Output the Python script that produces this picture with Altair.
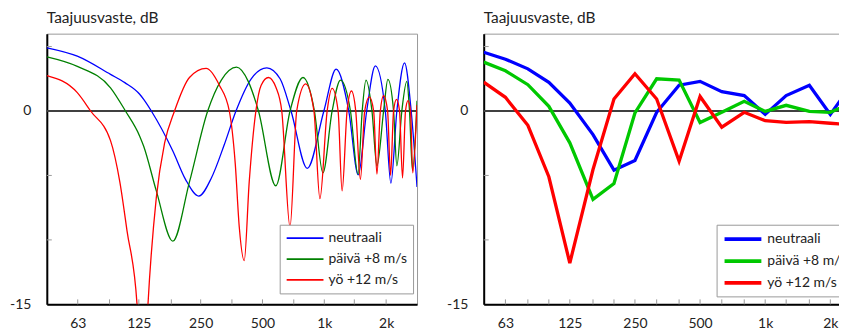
import altair as alt
import pandas as pd

FONT = "Lato"
SERIES = ["neutraali", "päivä +8 m/s", "yö +12 m/s"]
TITLE = "Taajuusvaste, dB"

# ---- Left panel: continuous frequency response (Hz, dB) ----
blue_f = [44.6, 62.7, 91.0, 106.8, 126.2, 132.0, 143.8, 183.0, 210.9, 244.7, 281.9, 326.0,
          371.4, 440.6, 525.0, 609.0, 688.6, 826.0, 995.2, 1141.6, 1315.5, 1462.6, 1608.2,
          1772.2, 1981.5, 2109.3, 2255.4, 2457.8, 2648.6, 2828.0]
blue_db = [4.9, 4.25, 2.84, 2.2, 1.3, 0.9, 0.0, -3.1, -5.3, -6.6, -5.2, -2.6,
           0.0, 2.5, 3.35, 2.5, 0.0, -4.45, 0.0, 3.25, 0.0, -4.95, 0.0,
           3.5, 0.0, -5.6, 0.0, 3.74, 0.0, -5.9]

green_f = [44.6, 62.7, 91.0, 107.6, 126.2, 132.0, 152.1, 183.0, 220.5, 270.5, 315.2, 373.9,
           426.1, 478.0, 580.4, 680.9, 787.3, 895.1, 984.2, 1091.8, 1199.1, 1340.7, 1459.4,
           1529.4, 1595.7, 1706.3, 1804.2, 1944.3, 2039.8, 2173.9, 2255.4, 2385.0, 2521.8,
           2598.9, 2687.4, 2828.0]
green_db = [4.2, 3.46, 1.8, 0.0, -1.95, -2.73, -6.2, -10.1, -5.5, 0.0, 2.4, 3.4,
            2.3, 0.0, -5.8, 0.0, 2.6, 0.0, -4.8, 0.0, 2.4, 0.0, -4.9,
            0.0, 2.4, 0.0, -4.25, 0.0, 2.45, 0.0, -4.25, 0.0, 2.3,
            0.0, -4.6, 0.8]

red_f = [44.6, 62.7, 72.8, 91.0, 101.0, 109.5, 122.5, 130.5, 138.5, 152.1, 166.8, 186.5,
         220.5, 265.7, 308.3, 344.7, 368.5, 385.4, 407.5, 430.9, 464.3, 492.6, 534.4,
         582.4, 620.6, 680.9, 733.8, 811.3, 890.1, 951.8, 1032.5, 1091.8, 1167.4, 1220.7,
         1290.8, 1355.7, 1422.4, 1499.1, 1572.7, 1657.5, 1738.9, 1804.2, 1874.0, 1944.3,
         2033.1, 2102.2, 2173.9, 2247.9, 2324.4, 2403.6, 2485.4, 2555.8, 2628.0, 2696.4,
         2825.9]
red_db = [2.75, 1.42, 0.0, -2.3, -5.5, -9.3, -15.0, -24.0, -15.0, -6.7, -2.5, 0.0,
          2.6, 3.3, 2.0, 0.0, -4.1, -9.0, -11.6, -5.5, 0.0, 2.0, 2.6,
          1.8, 0.0, -9.0, 0.0, 2.1, 0.0, -6.8, 0.0, 1.75, 0.0, -6.2,
          0.0, 1.55, 0.0, -5.3, 0.0, 1.1, 0.0, -4.9, 0.0, 1.2,
          0.0, -5.0, 0.0, 0.9, 0.0, -5.2, 0.0, 0.8, 0.0, -4.8,
          0.46]

# ---- Right panel: third-octave bands ----
bands = [50, 63, 80, 100, 125, 160, 200, 250, 315, 400, 500, 630, 800, 1000, 1250, 1600, 2000, 2500]
band_blue = [4.56, 4.02, 3.27, 2.22, 0.62, -1.83, -4.59, -3.84, -0.1, 2.0, 2.3, 1.5, 1.2, -0.26,
             1.2, 2.0, -0.26, 2.0]
band_green = [3.79, 3.12, 2.04, 0.36, -2.47, -6.86, -5.62, -0.15, 2.5, 2.4, -0.9, -0.1, 0.75,
              -0.03, 0.44, -0.03, -0.1, 0.6]
band_red = [2.24, 1.06, -1.11, -5.1, -11.8, -4.54, 0.93, 2.89, 0.93, -3.89, 1.13, -1.26, -0.1,
            -0.75, -0.88, -0.82, -0.95, -1.05]

octave_labels = [63, 125, 250, 500, 1000, 2000]
left_ticks = [63, 90, 125, 180, 250, 355, 500, 710, 1000, 1400, 2000]
right_ticks = [63, 80, 100, 125, 160, 200, 250, 315, 400, 500, 630, 800, 1000, 1250, 1600, 2000, 2500]
y_ticks = [5, -5, -10]
y_labels = [0, -15]


def long_df(fs, dbs):
    rows = []
    for name, f, d in zip(SERIES, fs, dbs):
        rows += [{"f": a, "db": b, "series": name} for a, b in zip(f, d)]
    return pd.DataFrame(rows)


def panel(df, xdom, width, height, colors, sw, xticks, legend_x, interp):
    x_enc = alt.X("f:Q", title=None,
                  scale=alt.Scale(type="log", domain=xdom, nice=False),
                  axis=alt.Axis(values=octave_labels, ticks=False, grid=False,
                                domainColor="#000000", domainWidth=2,
                                labelExpr="datum.value >= 1000 ? (datum.value/1000) + 'k' : datum.value",
                                labelFont=FONT, labelFontSize=14, labelColor="#222222",
                                labelPadding=12, labelFlush=False))
    y_enc = alt.Y("db:Q", title=None,
                  scale=alt.Scale(domain=[-15, 6], nice=False, zero=False),
                  axis=alt.Axis(values=y_labels, ticks=False, grid=False,
                                domainColor="#000000", domainWidth=2,
                                labelExpr="datum.value < 0 ? '-' + abs(datum.value) : '' + datum.value",
                                labelFont=FONT, labelFontSize=14, labelColor="#222222",
                                labelPadding=16))
    layers = [
        alt.Chart(pd.DataFrame({"db": [0]})).mark_rule(
            color="#404040", strokeWidth=2).encode(y=y_enc),
        alt.Chart(pd.DataFrame({"f": xticks})).mark_rule(
            color="#999999", strokeWidth=1).encode(x=x_enc, y=alt.value(height), y2=alt.value(height - 5)),
        alt.Chart(pd.DataFrame({"db": y_ticks})).mark_rule(
            color="#999999", strokeWidth=1).encode(y=y_enc, x=alt.value(0), x2=alt.value(5)),
        alt.Chart(df).mark_line(strokeWidth=sw, clip=True, interpolate=interp).encode(
            x=x_enc, y=y_enc,
            color=alt.Color("series:N", sort=SERIES,
                            scale=alt.Scale(domain=SERIES, range=colors),
                            legend=alt.Legend(orient="none", legendX=legend_x, legendY=192,
                                              title=None, symbolType="M-3,0L3,0",
                                              symbolSize=152,
                                              symbolStrokeWidth=sw + 0.4, labelFont=FONT,
                                              labelFontSize=14, labelColor="#222222",
                                              symbolOffset=12, labelOffset=16,
                                              padding=6, rowPadding=6, strokeColor="#999999",
                                              fillColor="#ffffff", cornerRadius=0)),
            detail="series:N", order=alt.Order("f:Q")),
    ]
    return alt.layer(*layers).properties(
        width=width, height=height,
        view=alt.ViewBackground(stroke="#999999", strokeWidth=1),
        title=alt.TitleParams(TITLE, anchor="start", frame="group", font=FONT, fontSize=15.5,
                              fontWeight="normal", color="#222222", offset=7))


left = panel(long_df([blue_f, green_f, red_f], [blue_db, green_db, red_db]),
             [44.55, 2828], 372, 272, ["#0000ff", "#008000", "#ff0000"], 1.3, left_ticks, 234,
             "monotone")
right = panel(long_df([bands] * 3, [band_blue, band_green, band_red]),
              [50, 2828], 381, 272, ["#0000ff", "#00c800", "#ff0000"], 3.3, right_ticks, 234,
              "linear")

chart = alt.hconcat(left, right, spacing=27).resolve_scale(color="independent").resolve_legend(
    color="independent").configure(padding={"left": 1, "top": 2, "right": -26, "bottom": 0})

chart.save("out.html", embed_options={"renderer": "svg", "actions": False})
